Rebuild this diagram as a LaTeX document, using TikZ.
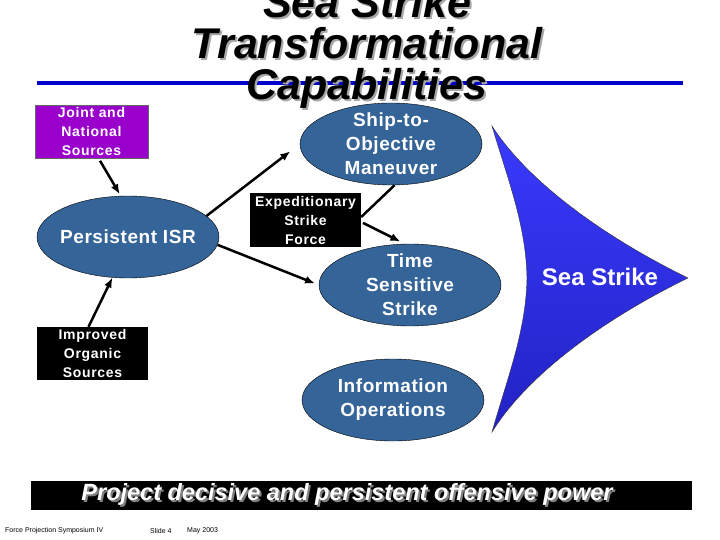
\documentclass[tikz,border=0pt]{standalone}
\usepackage{fontspec}
\setmainfont{Liberation Sans}
\usepackage{xcolor}
\usepackage{tikz}
\usetikzlibrary{shapes.geometric,arrows.meta,positioning}

\definecolor{isrblue}{RGB}{52,100,152}
\definecolor{jointpurple}{RGB}{153,0,204}
\definecolor{ruleblue}{RGB}{0,0,204}
\definecolor{strikelight}{RGB}{58,58,255}
\definecolor{strikedark}{RGB}{34,34,196}

% text with a soft drop shadow
\newcommand{\dropshadow}[2][black!35]{\makebox[0pt][l]{\hspace{2pt}\raisebox{-2pt}{\textcolor{#1}{#2}}}#2}

\begin{document}
\begin{tikzpicture}[
    x=1pt,y=-1pt,
    heading/.style={anchor=base,inner sep=0pt,font=\fontsize{43}{44}\selectfont\bfseries\itshape},
    bubble/.style={ellipse,draw=black,fill=isrblue,minimum width=182pt,minimum height=82pt,inner xsep=-8pt,inner ysep=-4pt,align=center,text=white,font=\fontsize{19}{24}\selectfont\bfseries\addfontfeature{LetterSpace=3}},
    srcbox/.style={rectangle,minimum width=111pt,minimum height=53pt,inner sep=0pt,align=center,text=white,font=\fontsize{14}{19}\selectfont\bfseries\addfontfeature{LetterSpace=5}},
    link/.style={line width=2.5pt,-{Latex[length=10pt,width=8pt]}},
    footer/.style={anchor=west,inner sep=0pt,font=\fontsize{7}{8}\selectfont}
]
\useasboundingbox (0,0) rectangle (720,540);

% title and rule
\draw[ruleblue,line width=4pt] (37,83) -- (683,83);
\node[heading] (title-a) at (367,18) {\dropshadow{Sea Strike}};
\node[heading] (title-b) at (367,59) {\dropshadow{Transformational}};
\node[heading] (title-c) at (367,100) {\dropshadow{Capabilities}};

% sources
\node[srcbox,fill=jointpurple,draw=black!60,minimum width=113pt] (joint) at (91.5,131.5) {Joint and\\National\\Sources};
\node[srcbox,fill=black] (improved) at (92.5,353.5) {Improved\\Organic\\Sources};
\node[srcbox,fill=black,minimum height=54pt] (exped) at (305.5,220) {Expeditionary\\Strike\\Force};

% capabilities
\node[bubble] (isr) at (128,237) {Persistent ISR};
\node[bubble] (ship) at (391,144) {Ship-to-\\Objective\\Maneuver};
\node[bubble] (tss) at (410,285) {Time\\Sensitive\\Strike};
\node[bubble] (info) at (393,400) {Information\\Operations};

% sea strike arrow
\coordinate (top) at (492,126);
\coordinate (tip) at (688,278);
\coordinate (bottom) at (492,432);
\coordinate (bulge) at (527,278);
\shadedraw[draw=black!80,thin,top color=strikelight,bottom color=strikedark]
    (top) .. controls (530,185) and (610,240) .. (tip)
    .. controls (610,316) and (530,371) .. (bottom)
    .. controls (508,376) and (526,331) .. (bulge)
    .. controls (526,225) and (508,180) .. (top) -- cycle;
\node[text=white,font=\fontsize{24}{28}\selectfont\bfseries] (seastrike) at (600,277) {Sea Strike};

% connectors
\draw[link,shorten <=3pt,shorten >=2pt] ([xshift=7pt]joint.south) -- (isr.100);
\draw[link] ([xshift=-4pt]improved.north) -- (isr.249);
\draw[link,shorten >=12pt] (isr.15) -- (ship.180);
\draw[link,shorten >=4pt] (isr.-5) -- (tss.180);
\draw[line width=2.5pt] (ship.275) -- ([yshift=3pt]exped.east);
\draw[link,shorten <=2pt,shorten >=5pt] ([yshift=-2pt]exped.east) -- (tss.97);

% banner
\node[fill=black,minimum width=661pt,minimum height=29pt,inner sep=0pt] (bar) at (361.5,495.5) {};
\node[text=white,inner sep=0pt,font=\fontsize{23.5}{25}\selectfont\bfseries\itshape] (motto) at (347,495) {\dropshadow[black!50]{Project decisive and persistent offensive power}};

% footer
\node[footer] (event) at (5,531) {Force Projection Symposium IV};
\node[footer] (slide) at (150,531) {Slide 4};
\node[footer] (date) at (187,531) {May 2003};
\end{tikzpicture}
\end{document}
